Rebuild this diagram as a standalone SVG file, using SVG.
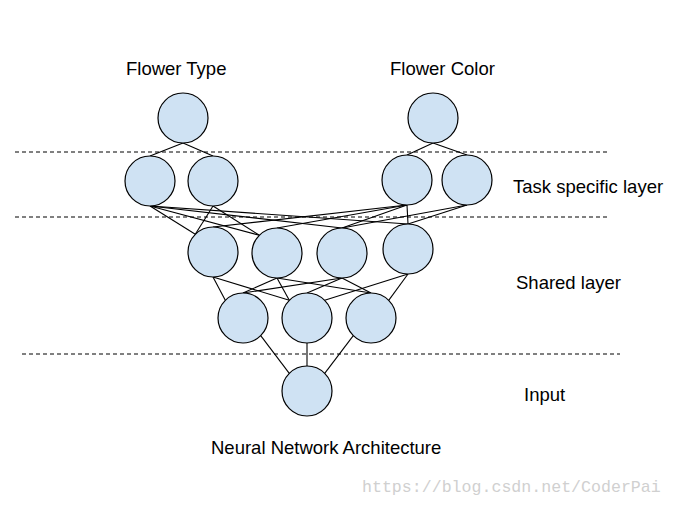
<svg xmlns="http://www.w3.org/2000/svg" width="673" height="505" viewBox="0 0 673 505">
<style>
.n{fill:#cfe2f3;stroke:#000;stroke-width:1.2}
.c line{stroke:#000;stroke-width:1.1}
.d{stroke:#000;stroke-width:1;stroke-dasharray:4 3}
.t{font-family:"Liberation Sans",Arial,sans-serif;font-size:18.5px;fill:#000}
.w{font-family:"Liberation Mono","DejaVu Sans Mono",monospace;font-size:16.6px;fill:#d0d0d0}
</style>
<rect width="673" height="505" fill="#fff"/>
<g id="separators">
<line class="d" x1="15" y1="152" x2="610" y2="152"/>
<line class="d" x1="15" y1="217" x2="610" y2="217"/>
<line class="d" x1="22" y1="354" x2="620" y2="354"/>
</g>
<g id="connectors" class="c">
<line x1="183" y1="143" x2="150" y2="156"/>
<line x1="183" y1="143" x2="213" y2="156"/>
<line x1="433" y1="143" x2="407" y2="155"/>
<line x1="433" y1="143" x2="467" y2="155"/>
<line x1="150" y1="206" x2="195.3" y2="234.3"/>
<line x1="150" y1="206" x2="259.3" y2="235.3"/>
<line x1="150" y1="206" x2="342" y2="228"/>
<line x1="150" y1="206" x2="408" y2="224"/>
<line x1="213" y1="206" x2="195.3" y2="234.3"/>
<line x1="213" y1="206" x2="259.3" y2="235.3"/>
<line x1="407" y1="205" x2="213" y2="227"/>
<line x1="407" y1="205" x2="277" y2="228"/>
<line x1="407" y1="205" x2="342" y2="228"/>
<line x1="407" y1="205" x2="408" y2="224"/>
<line x1="467" y1="205" x2="342" y2="228"/>
<line x1="467" y1="205" x2="408" y2="224"/>
<line x1="213" y1="277" x2="225.3" y2="300.3"/>
<line x1="213" y1="277" x2="289.3" y2="300.3"/>
<line x1="277" y1="278" x2="243" y2="293"/>
<line x1="277" y1="278" x2="289.3" y2="300.3"/>
<line x1="277" y1="278" x2="371" y2="293"/>
<line x1="342" y1="278" x2="243" y2="293"/>
<line x1="342" y1="278" x2="307" y2="293"/>
<line x1="342" y1="278" x2="371" y2="293"/>
<line x1="408" y1="274" x2="324.7" y2="300.3"/>
<line x1="408" y1="274" x2="388.7" y2="300.3"/>
<line x1="260.7" y1="335.7" x2="289.3" y2="373.3"/>
<line x1="307" y1="343" x2="307" y2="366"/>
<line x1="353.3" y1="335.7" x2="324.7" y2="373.3"/>
</g>
<g id="flower-type-out"><circle class="n" cx="183" cy="118" r="25"/></g>
<g id="flower-color-out"><circle class="n" cx="433" cy="118" r="25"/></g>
<g id="ft-left"><circle class="n" cx="150" cy="181" r="25"/></g>
<g id="ft-right"><circle class="n" cx="213" cy="181" r="25"/></g>
<g id="fc-left"><circle class="n" cx="407" cy="180" r="25"/></g>
<g id="fc-right"><circle class="n" cx="467" cy="180" r="25"/></g>
<g id="s1"><circle class="n" cx="213" cy="252" r="25"/></g>
<g id="s2"><circle class="n" cx="277" cy="253" r="25"/></g>
<g id="s3"><circle class="n" cx="342" cy="253" r="25"/></g>
<g id="s4"><circle class="n" cx="408" cy="249" r="25"/></g>
<g id="t1"><circle class="n" cx="243" cy="318" r="25"/></g>
<g id="t2"><circle class="n" cx="307" cy="318" r="25"/></g>
<g id="t3"><circle class="n" cx="371" cy="318" r="25"/></g>
<g id="input"><circle class="n" cx="307" cy="391" r="25"/></g>
<g id="labels">
<text class="t" x="126" y="75">Flower Type</text>
<text class="t" x="390" y="75">Flower Color</text>
<text class="t" x="513" y="193">Task specific layer</text>
<text class="t" x="516" y="289">Shared layer</text>
<text class="t" x="524" y="401">Input</text>
<text class="t" x="211" y="454">Neural Network Architecture</text>
<text class="w" x="362" y="492">https://blog.csdn.net/CoderPai</text>
</g>
</svg>
